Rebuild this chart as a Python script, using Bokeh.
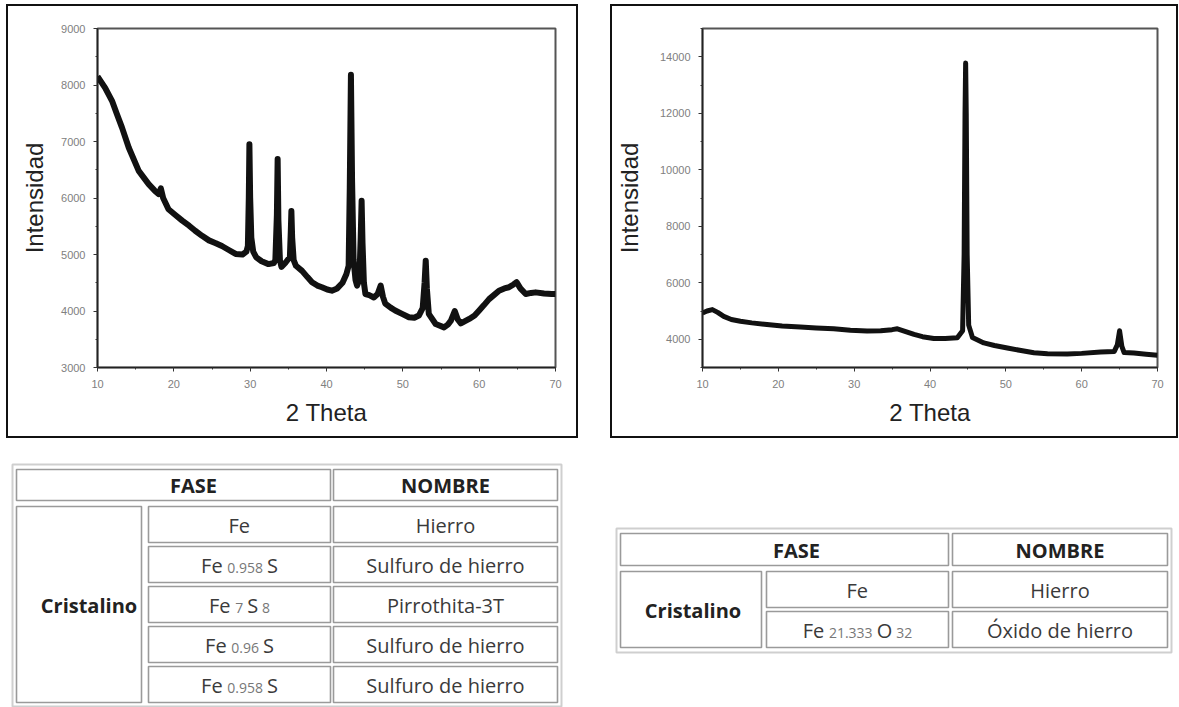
from bokeh.plotting import figure
from bokeh.layouts import column, row
from bokeh.models import Spacer, Range1d, SingleIntervalTicker
from bokeh.core.properties import value
from bokeh.embed import file_html
from bokeh.resources import INLINE

# ---------------- data ----------------
theta1 = [10.0, 10.5, 11.0, 11.9, 12.5, 13.2, 14.1, 15.4, 16.7, 17.5, 18.0, 18.3, 18.6,
          19.3, 20.2, 21.1, 22.0, 22.8, 23.7, 24.6, 25.5, 26.3, 27.2, 28.1, 29.0, 29.5,
          29.7, 29.82, 29.9, 30.0, 30.15, 30.4, 30.8, 31.5, 32.4, 33.1, 33.3, 33.5, 33.6,
          33.7, 33.9, 34.1, 34.6, 35.0, 35.2, 35.32, 35.4, 35.5, 35.7, 36.0, 36.8, 37.5,
          38.1, 38.8, 39.4, 40.1, 40.7, 41.4, 42.1, 42.6, 42.9, 43.05, 43.2, 43.35, 43.55,
          43.8, 44.0, 44.3, 44.48, 44.6, 44.72, 44.9, 45.1, 45.6, 46.2, 46.7, 47.1, 47.4,
          47.7, 48.4, 49.0, 49.9, 50.8, 51.5, 52.1, 52.6, 52.85, 53.0, 53.15, 53.4, 54.3,
          55.4, 55.9, 56.3, 56.8, 57.2, 57.6, 58.7, 59.4, 60.0, 60.6, 61.3, 62.0, 62.6,
          63.3, 63.9, 64.5, 64.9, 65.4, 66.1, 66.8, 67.4, 68.5, 69.5, 70.0]
intens1 = [8150, 8050, 7950, 7720, 7500, 7250, 6890, 6480, 6245, 6130, 6070, 6170, 6000,
           5800, 5700, 5600, 5510, 5420, 5330, 5250, 5200, 5150, 5080, 5010, 5000, 5050,
           5150, 6000, 6950, 6000, 5300, 5050, 4950, 4880, 4830, 4850, 4900, 5700, 6690,
           5600, 4900, 4780, 4850, 4920, 4950, 5400, 5770, 5300, 4900, 4800, 4710, 4600,
           4510, 4450, 4420, 4380, 4360, 4400, 4500, 4650, 4800, 6200, 8180, 6300, 4900,
           4550, 4450, 4550, 5300, 5950, 5200, 4500, 4300, 4280, 4240, 4300, 4450, 4250,
           4130, 4060, 4010, 3950, 3890, 3880, 3920, 4050, 4500, 4890, 4400, 3950, 3770,
           3710, 3760, 3830, 4000, 3850, 3780, 3860, 3920, 4010, 4100, 4210, 4290, 4360,
           4400, 4420, 4470, 4510, 4400, 4300, 4320, 4330, 4310, 4300, 4300]

theta2 = [10.0, 10.6, 11.3, 12.0, 12.8, 13.8, 15.0, 16.5, 18.5, 20.5, 22.9, 25.0, 27.3,
          29.5, 31.7, 33.5, 35.0, 35.7, 36.5, 37.9, 39.0, 40.5, 42.0, 43.6, 44.3, 44.5,
          44.62, 44.7, 44.78, 44.9, 45.1, 45.6, 47.1, 48.5, 50.2, 52.0, 53.7, 55.5, 58.1,
          60.0, 62.5, 64.3, 64.7, 65.0, 65.3, 65.6, 66.9, 68.5, 70.0]
intens2 = [4930, 5000, 5050, 4950, 4810, 4700, 4640, 4580, 4520, 4470, 4430, 4400, 4370,
           4320, 4290, 4300, 4340, 4370, 4300, 4170, 4090, 4030, 4030, 4050, 4300, 7000,
           12000, 13780, 12000, 7000, 4500, 4060, 3870, 3780, 3690, 3600, 3520, 3490, 3480,
           3500, 3550, 3570, 3800, 4300, 3750, 3530, 3510, 3470, 3430]

x_label = "2 Theta"
y_label = "Intensidad"

# table contents: segments (text, is_subscript)
t1_fase = [[("Fe", 0)],
           [("Fe", 0), ("0.958", 1), ("S", 0)],
           [("Fe", 0), ("7", 1), ("S", 0), ("8", 1)],
           [("Fe", 0), ("0.96", 1), ("S", 0)],
           [("Fe", 0), ("0.958", 1), ("S", 0)]]
t1_nombre = ["Hierro", "Sulfuro de hierro", "Pirrothita-3T", "Sulfuro de hierro", "Sulfuro de hierro"]
t2_fase = [[("Fe", 0)],
           [("Fe", 0), ("21.333", 1), ("O", 0), ("32", 1)]]
t2_nombre = ["Hierro", "Óxido de hierro"]
hdr_fase = "FASE"
hdr_nombre = "NOMBRE"
group_label = "Cristalino"

# ---------------- charts ----------------
def xrd(theta, inten, ymin, ymax, yint, w, h, ml, mr, mt, mb, lab_standoff, lw):
    p = figure(width=w, height=h, x_range=Range1d(10, 70), y_range=Range1d(ymin, ymax),
               output_backend="svg", toolbar_location=None,
               min_border_left=ml, min_border_right=mr, min_border_top=mt, min_border_bottom=mb,
               background_fill_color="white", border_fill_color="white")
    p.line(theta, inten, line_color="#111111", line_width=lw, line_join="round")
    p.xgrid.visible = False
    p.ygrid.visible = False
    p.outline_line_color = "#555555"
    p.outline_line_width = 2
    p.xaxis.ticker = SingleIntervalTicker(interval=10, num_minor_ticks=2)
    p.yaxis.ticker = SingleIntervalTicker(interval=yint, num_minor_ticks=2)
    for ax in (p.xaxis[0], p.yaxis[0]):
        ax.axis_line_color = "#222222"
        ax.axis_line_width = 1.6
        ax.major_tick_line_color = "#333333"
        ax.minor_tick_line_color = "#333333"
        ax.major_tick_out = 4
        ax.major_tick_in = 0
        ax.minor_tick_out = 2
        ax.minor_tick_in = 0
        ax.major_label_text_font = "Liberation Sans"
        ax.major_label_text_font_size = "11px"
        ax.major_label_text_color = "#808080"
        ax.major_label_standoff = 8
        ax.axis_label_text_font = "Liberation Sans"
        ax.axis_label_text_font_size = "24px"
        ax.axis_label_text_font_style = "normal"
        ax.axis_label_text_color = "#222222"
    p.xaxis.axis_label = x_label
    p.yaxis.axis_label = y_label
    p.xaxis.axis_label_standoff = 8
    p.yaxis.axis_label_standoff = lab_standoff
    return p

def boxed(p, w, h):
    line = {"background-color": "#111111"}
    return row(
        Spacer(width=2, height=h + 4, styles=line),
        column(Spacer(width=w, height=2, styles=line), p,
               Spacer(width=w, height=2, styles=line), spacing=0),
        Spacer(width=2, height=h + 4, styles=line),
        spacing=0)

p1 = xrd(theta1, intens1, 3000, 9000, 1000, 568, 430, 89, 21, 22, 69, 10, 6)
p2 = xrd(theta2, intens2, 3000, 15000, 2000, 564, 430, 90, 19, 22, 69, 14, 5)

# ---------------- tables ----------------
tp = figure(width=1179, height=269, x_range=Range1d(0, 1179), y_range=Range1d(707, 438),
            output_backend="svg", toolbar_location=None, min_border=0,
            x_axis_location=None, y_axis_location=None)
tp.grid.visible = False
tp.outline_line_color = None

FS = 20
SUB = 14
BASE = 0.5
GAP = 4
CW = {"F": 0.55, "e": 0.56, "S": 0.54, "O": 0.78, ".": 0.27, " ": 0.26}
def w_of(s, size):
    return sum(CW.get(c, 0.572) for c in s) * size

cells = dict(l=[], r=[], t=[], b=[])
outer = dict(l=[], r=[], t=[], b=[])
main_t = dict(x=[], y=[], text=[])
sub_t = dict(x=[], y=[], text=[])
bold_t = dict(x=[], y=[], text=[])
plain_t = dict(x=[], y=[], text=[])

def cell(l, r, t, b):
    cells["l"].append(l); cells["r"].append(r); cells["t"].append(t); cells["b"].append(b)

def formula(segs, cx, cy):
    widths = [w_of(s, SUB if sb else FS) for s, sb in segs]
    total = sum(widths) + GAP * (len(segs) - 1)
    x = cx - total / 2
    base = cy + BASE
    for (s, sb), w in zip(segs, widths):
        if sb:
            sub_t["x"].append(x); sub_t["y"].append(base + 3); sub_t["text"].append(s)
        else:
            main_t["x"].append(x); main_t["y"].append(base); main_t["text"].append(s)
        x += w + GAP

def table(ox, oy, ow, oh, hdr_t, hdr_b, c1, c2, c3, row_tops, row_h, fase, nombre, fase_x, cris_dx):
    outer["l"].append(ox); outer["r"].append(ox + ow); outer["t"].append(oy); outer["b"].append(oy + oh)
    cell(c1[0], c2[1], hdr_t, hdr_b)
    cell(c3[0], c3[1], hdr_t, hdr_b)
    hy = (hdr_t + hdr_b) / 2 + BASE
    bold_t["x"] += [fase_x, (c3[0] + c3[1]) / 2]
    bold_t["y"] += [hy, hy]
    bold_t["text"] += [hdr_fase, hdr_nombre]
    cell(c1[0], c1[1], row_tops[0], row_tops[-1] + row_h)
    bold_t["x"].append((c1[0] + c1[1]) / 2 + cris_dx)
    bold_t["y"].append((row_tops[0] + row_tops[-1] + row_h) / 2 + BASE)
    bold_t["text"].append(group_label)
    for rt, f, n in zip(row_tops, fase, nombre):
        cell(c2[0], c2[1], rt, rt + row_h)
        cell(c3[0], c3[1], rt, rt + row_h)
        cy = rt + row_h / 2
        formula(f, (c2[0] + c2[1]) / 2, cy)
        plain_t["x"].append((c3[0] + c3[1]) / 2); plain_t["y"].append(cy + BASE); plain_t["text"].append(n)

table(12, 464, 549, 242, 469, 500, (16, 141), (148, 330), (333, 557),
      [506, 546, 586, 626, 666], 36, t1_fase, t1_nombre, 193, 10)
table(616, 528, 555, 124, 533, 565, (620, 761), (766, 948), (952, 1167),
      [571, 611], 36, t2_fase, t2_nombre, 796, 2)

tp.quad(left=outer["l"], right=outer["r"], top=outer["t"], bottom=outer["b"],
        fill_color="white", line_color="#cfcfcf", line_width=2)
tp.quad(left=cells["l"], right=cells["r"], top=cells["t"], bottom=cells["b"],
        fill_color="white", line_color="#9a9a9a", line_width=1.6)
tp.text(x=bold_t["x"], y=bold_t["y"], text=bold_t["text"], text_align="center",
        text_baseline="alphabetic", text_font=value("Open Sans"), text_font_size=f"{FS}px",
        text_font_style="bold", text_color="#222222")
tp.text(x=plain_t["x"], y=plain_t["y"], text=plain_t["text"], text_align="center",
        text_baseline="alphabetic", text_font=value("Open Sans"), text_font_size=f"{FS}px",
        text_color="#3a3a3a")
tp.text(x=main_t["x"], y=main_t["y"], text=main_t["text"], text_align="left",
        text_baseline="alphabetic", text_font=value("Open Sans"), text_font_size=f"{FS}px",
        text_color="#3a3a3a")
tp.text(x=sub_t["x"], y=sub_t["y"], text=sub_t["text"], text_align="left",
        text_baseline="alphabetic", text_font=value("Open Sans"), text_font_size=f"{SUB}px",
        text_color="#777777")

layout = column(
    Spacer(width=1179, height=4),
    row(Spacer(width=6, height=434), boxed(p1, 568, 430), Spacer(width=32, height=434),
        boxed(p2, 564, 430), spacing=0),
    tp,
    spacing=0,
)

open("out.html", "w").write(file_html(layout, INLINE))
